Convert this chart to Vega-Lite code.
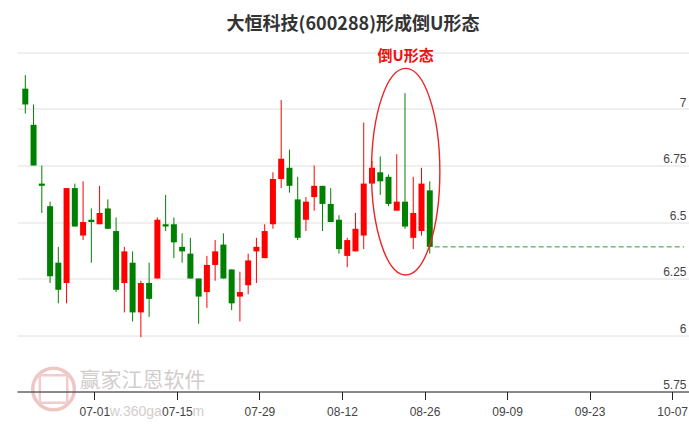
{
  "$schema": "https://vega.github.io/schema/vega-lite/v6.json",
  "autosize": "none",
  "width": 672,
  "height": 339,
  "padding": {"left": 17, "top": 52.5, "right": 0, "bottom": 35.5},
  "background": "white",
  "title": {
    "text": "大恒科技(600288)形成倒U形态",
    "font": "Noto Sans CJK SC",
    "fontSize": 18,
    "fontWeight": "bold",
    "color": "#333333",
    "anchor": "middle",
    "baseline": "alphabetic",
    "offset": -8
  },
  "config": {"view": {"stroke": null}},
  "datasets": {
    "k": [
      {"i": 0, "date": "2024-06-19", "o": 7.09, "h": 7.15, "l": 6.98, "c": 7.02},
      {"i": 1, "date": "2024-06-20", "o": 6.93, "h": 7.02, "l": 6.75, "c": 6.75},
      {"i": 2, "date": "2024-06-21", "o": 6.67, "h": 6.75, "l": 6.54, "c": 6.66},
      {"i": 3, "date": "2024-06-24", "o": 6.57, "h": 6.59, "l": 6.23, "c": 6.26},
      {"i": 4, "date": "2024-06-25", "o": 6.32, "h": 6.39, "l": 6.14, "c": 6.2},
      {"i": 5, "date": "2024-06-26", "o": 6.23, "h": 6.65, "l": 6.14, "c": 6.65},
      {"i": 6, "date": "2024-06-27", "o": 6.65, "h": 6.67, "l": 6.48, "c": 6.48},
      {"i": 7, "date": "2024-06-28", "o": 6.44, "h": 6.68, "l": 6.42, "c": 6.5},
      {"i": 8, "date": "2024-07-01", "o": 6.51, "h": 6.56, "l": 6.32, "c": 6.5},
      {"i": 9, "date": "2024-07-02", "o": 6.49, "h": 6.66, "l": 6.49, "c": 6.54},
      {"i": 10, "date": "2024-07-03", "o": 6.56, "h": 6.6, "l": 6.47, "c": 6.47},
      {"i": 11, "date": "2024-07-04", "o": 6.46, "h": 6.52, "l": 6.19, "c": 6.2},
      {"i": 12, "date": "2024-07-05", "o": 6.23, "h": 6.39, "l": 6.1, "c": 6.37},
      {"i": 13, "date": "2024-07-08", "o": 6.32, "h": 6.37, "l": 6.06, "c": 6.1},
      {"i": 14, "date": "2024-07-09", "o": 6.1, "h": 6.24, "l": 5.99, "c": 6.23},
      {"i": 15, "date": "2024-07-10", "o": 6.23, "h": 6.32, "l": 6.08, "c": 6.16},
      {"i": 16, "date": "2024-07-11", "o": 6.25, "h": 6.52, "l": 6.25, "c": 6.51},
      {"i": 17, "date": "2024-07-12", "o": 6.49, "h": 6.62, "l": 6.46, "c": 6.48},
      {"i": 18, "date": "2024-07-15", "o": 6.49, "h": 6.52, "l": 6.34, "c": 6.41},
      {"i": 19, "date": "2024-07-16", "o": 6.39, "h": 6.45, "l": 6.32, "c": 6.37},
      {"i": 20, "date": "2024-07-17", "o": 6.36, "h": 6.43, "l": 6.25, "c": 6.25},
      {"i": 21, "date": "2024-07-18", "o": 6.25, "h": 6.25, "l": 6.05, "c": 6.17},
      {"i": 22, "date": "2024-07-19", "o": 6.19, "h": 6.35, "l": 6.12, "c": 6.31},
      {"i": 23, "date": "2024-07-22", "o": 6.31, "h": 6.42, "l": 6.24, "c": 6.37},
      {"i": 24, "date": "2024-07-23", "o": 6.4, "h": 6.45, "l": 6.25, "c": 6.25},
      {"i": 25, "date": "2024-07-24", "o": 6.29, "h": 6.29, "l": 6.11, "c": 6.14},
      {"i": 26, "date": "2024-07-25", "o": 6.17, "h": 6.28, "l": 6.06, "c": 6.19},
      {"i": 27, "date": "2024-07-26", "o": 6.22, "h": 6.36, "l": 6.18, "c": 6.33},
      {"i": 28, "date": "2024-07-29", "o": 6.37, "h": 6.43, "l": 6.23, "c": 6.39},
      {"i": 29, "date": "2024-07-30", "o": 6.34, "h": 6.49, "l": 6.34, "c": 6.46},
      {"i": 30, "date": "2024-07-31", "o": 6.49, "h": 6.72, "l": 6.47, "c": 6.69},
      {"i": 31, "date": "2024-08-01", "o": 6.69, "h": 7.04, "l": 6.65, "c": 6.78},
      {"i": 32, "date": "2024-08-02", "o": 6.74, "h": 6.82, "l": 6.63, "c": 6.66},
      {"i": 33, "date": "2024-08-05", "o": 6.6, "h": 6.7, "l": 6.42, "c": 6.43},
      {"i": 34, "date": "2024-08-06", "o": 6.51, "h": 6.61, "l": 6.46, "c": 6.59},
      {"i": 35, "date": "2024-08-07", "o": 6.61, "h": 6.75, "l": 6.55, "c": 6.66},
      {"i": 36, "date": "2024-08-08", "o": 6.66, "h": 6.66, "l": 6.46, "c": 6.58},
      {"i": 37, "date": "2024-08-09", "o": 6.58, "h": 6.65, "l": 6.5, "c": 6.5},
      {"i": 38, "date": "2024-08-12", "o": 6.51, "h": 6.53, "l": 6.36, "c": 6.38},
      {"i": 39, "date": "2024-08-13", "o": 6.35, "h": 6.43, "l": 6.3, "c": 6.42},
      {"i": 40, "date": "2024-08-14", "o": 6.37, "h": 6.54, "l": 6.37, "c": 6.47},
      {"i": 41, "date": "2024-08-15", "o": 6.44, "h": 6.94, "l": 6.38, "c": 6.67},
      {"i": 42, "date": "2024-08-16", "o": 6.67, "h": 6.77, "l": 6.67, "c": 6.74},
      {"i": 43, "date": "2024-08-19", "o": 6.72, "h": 6.79, "l": 6.62, "c": 6.68},
      {"i": 44, "date": "2024-08-20", "o": 6.7, "h": 6.71, "l": 6.57, "c": 6.58},
      {"i": 45, "date": "2024-08-21", "o": 6.55, "h": 6.8, "l": 6.55, "c": 6.59},
      {"i": 46, "date": "2024-08-22", "o": 6.59, "h": 7.07, "l": 6.47, "c": 6.48},
      {"i": 47, "date": "2024-08-23", "o": 6.43, "h": 6.7, "l": 6.38, "c": 6.54},
      {"i": 48, "date": "2024-08-26", "o": 6.46, "h": 6.74, "l": 6.44, "c": 6.67},
      {"i": 49, "date": "2024-08-27", "o": 6.64, "h": 6.68, "l": 6.36, "c": 6.39}
    ]
  },
  "layer": [
    {
      "data": {"values": [{"label": "赢家江恩软件", "i": 14.2, "v": 5.796}]},
      "mark": {"type": "text", "font": "Noto Sans CJK SC", "fontSize": 21, "color": "#d2cdcd", "baseline": "middle", "align": "center"},
      "encoding": {
        "x": {"field": "i", "type": "quantitative"},
        "y": {"field": "v", "type": "quantitative"},
        "text": {"field": "label"}
      }
    },
    {
      "data": {"values": [{"label": "w.360ga", "i": 10.22, "v": 5.661}, {"label": "m", "i": 20.25, "v": 5.661}]},
      "mark": {"type": "text", "font": "Liberation Sans", "fontSize": 14, "color": "#d2cdcd", "baseline": "middle", "align": "left"},
      "encoding": {
        "x": {"field": "i", "type": "quantitative"},
        "y": {"field": "v", "type": "quantitative"},
        "text": {"field": "label"}
      }
    },
    {
      "data": {"values": [{"label": "logo", "i": 3.42, "v": 5.761}]},
      "mark": {"type": "point", "shape": "circle", "size": 1735, "filled": false, "stroke": "#efc6c6", "strokeWidth": 3.5, "opacity": 1},
      "encoding": {
        "x": {"field": "i", "type": "quantitative"},
        "y": {"field": "v", "type": "quantitative"}
      }
    },
    {
      "data": {"values": [{"label": "logo", "i": 3.42, "v": 5.761}]},
      "mark": {"type": "point", "shape": "square", "size": 750, "filled": false, "stroke": "#f0cccc", "strokeWidth": 2.5, "opacity": 1},
      "encoding": {
        "x": {"field": "i", "type": "quantitative"},
        "y": {"field": "v", "type": "quantitative"}
      }
    },
    {
      "data": {"name": "k"},
      "mark": {"type": "rule", "strokeWidth": 1},
      "encoding": {
        "x": {
          "field": "i",
          "type": "quantitative",
          "scale": {"domain": [-0.4, 79.8], "nice": false, "zero": false},
          "axis": {
            "values": [8, 18, 28, 38, 48, 58, 68, 78],
            "labelExpr": "['07-01','07-15','07-29','08-12','08-26','09-09','09-23','10-07'][round((datum.value-8)/10)]",
            "title": null,
            "grid": false,
            "domainColor": "#222222",
            "tickColor": "#222222",
            "tickSize": 8,
            "tickOffset": 3,
            "labelPadding": 7,
            "labelFont": "Liberation Sans",
            "labelFontSize": 12,
            "labelColor": "#444444",
            "labelFlush": false,
            "labelOverlap": false,
            "zindex": 1
          }
        },
        "y": {
          "field": "l",
          "type": "quantitative",
          "scale": {"domain": [5.75, 7.25], "nice": false, "zero": false},
          "axis": {
            "orient": "right",
            "values": [5.75, 6, 6.25, 6.5, 6.75, 7, 7.25],
            "labelExpr": "datum.value > 7.1 ? '' : '' + datum.value",
            "title": null,
            "domain": false,
            "ticks": false,
            "grid": true,
            "gridColor": "#e0e0e0",
            "gridWidth": 1,
            "labelAlign": "right",
            "labelBaseline": "alphabetic",
            "labelPadding": -3,
            "labelOffset": -3,
            "labelFont": "Liberation Sans",
            "labelFontSize": 12,
            "labelColor": "#444444",
            "labelFlush": false,
            "labelOverlap": false
          }
        },
        "y2": {"field": "h"},
        "color": {"condition": {"test": "datum.c >= datum.o", "value": "#ff0000"}, "value": "#008000"}
      }
    },
    {
      "data": {"name": "k"},
      "mark": {"type": "bar", "size": 6},
      "encoding": {
        "x": {"field": "i", "type": "quantitative"},
        "y": {"field": "o", "type": "quantitative"},
        "y2": {"field": "c"},
        "color": {"condition": {"test": "datum.c >= datum.o", "value": "#ff0000"}, "value": "#008000"}
      }
    },
    {
      "data": {"values": [{"from": 49.6, "to": 79.8, "close": 6.39}]},
      "mark": {"type": "rule", "strokeDash": [5, 3], "strokeWidth": 1, "color": "#2a9a2a"},
      "encoding": {
        "x": {"field": "from", "type": "quantitative"},
        "x2": {"field": "to"},
        "y": {"field": "close", "type": "quantitative"}
      }
    },
    {
      "data": {"values": [{"label": "ellipse", "i": 46.08, "v": 6.7226}]},
      "mark": {
        "type": "point",
        "shape": "M0,-1C0.1828,-1,0.331,-0.5523,0.331,0C0.331,0.5523,0.1828,1,0,1C-0.1828,1,-0.331,0.5523,-0.331,0C-0.331,-0.5523,-0.1828,-1,0,-1Z",
        "size": 42684,
        "filled": false,
        "stroke": "#ee2222",
        "strokeWidth": 1.4,
        "opacity": 1
      },
      "encoding": {
        "x": {"field": "i", "type": "quantitative"},
        "y": {"field": "v", "type": "quantitative"}
      }
    },
    {
      "data": {"values": [{"label": "倒U形态", "i": 46.08, "v": 7.236}]},
      "mark": {"type": "text", "font": "Noto Sans CJK SC", "fontSize": 15, "fontWeight": "bold", "color": "#ee1111", "baseline": "middle", "align": "center"},
      "encoding": {
        "x": {"field": "i", "type": "quantitative"},
        "y": {"field": "v", "type": "quantitative"},
        "text": {"field": "label"}
      }
    }
  ]
}
